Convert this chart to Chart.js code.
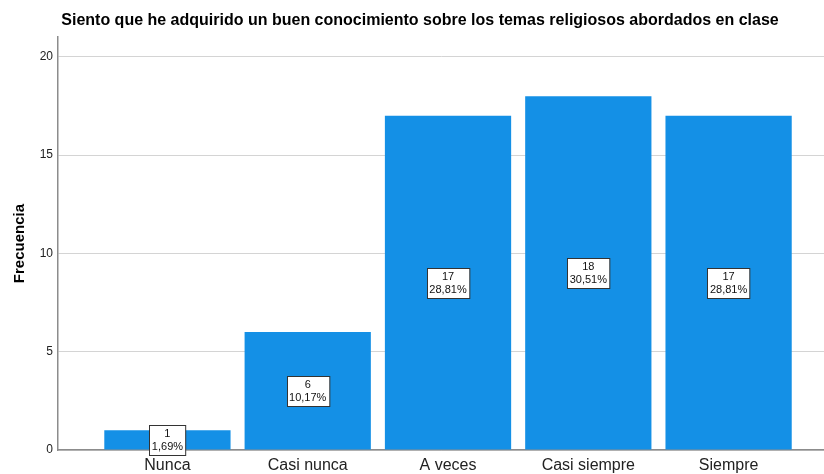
<!DOCTYPE html>
<html>
<head>
<meta charset="utf-8">
<script src="https://cdn.jsdelivr.net/npm/chart.js@4/dist/chart.umd.min.js"></script>
<style>
  html, body { margin: 0; padding: 0; background: #fff; overflow: hidden; }
  #wrap { width: 824px; height: 474px; }
</style>
</head>
<body>
<div id="wrap"><canvas id="myChart" width="824" height="474"></canvas></div>
<script>
const titleText = "Siento que he adquirido un buen conocimiento sobre los temas religiosos abordados en clase";
const categories = [ "Nunca", "Casi nunca", "A veces", "Casi siempre", "Siempre" ];
const counts = [ 1, 6, 17, 18, 17 ];
const percents = [ "1,69%", "10,17%", "28,81%", "30,51%", "28,81%" ];
const yTicks = [ 0, 5, 10, 15, 20 ];

const barColor = "#1490e6";

// boxed labels in the middle of each bar (count + percent)
const boxLabels = {
	id: "boxLabels",
	afterDatasetsDraw(chart) {
		const ctx = chart.ctx;
		const meta = chart.getDatasetMeta(0);
		ctx.save();
		ctx.font = "11px Arial, 'Liberation Sans', sans-serif";
		ctx.textAlign = "center";
		ctx.textBaseline = "middle";
		meta.data.forEach((bar, i) => {
			const lines = [ String(counts[i]), percents[i] ];
			const w = Math.max(...lines.map(t => ctx.measureText(t).width)) + 5;
			const h = 30;
			const cy = (bar.y + bar.base) / 2;
			const x0 = Math.round(bar.x - w / 2) + 0.5;
			const y0 = Math.round(cy - h / 2) + 0.5;
			ctx.fillStyle = "#fff";
			ctx.fillRect(x0, y0, w, h);
			ctx.strokeStyle = "#333";
			ctx.lineWidth = 1;
			ctx.strokeRect(x0, y0, w, h);
			ctx.fillStyle = "#111";
			ctx.fillText(lines[0], bar.x, cy - 6);
			ctx.fillText(lines[1], bar.x, cy + 7);
		});
		ctx.restore();
	}
};

const chart = document.getElementById("myChart").getContext("2d");

let myChart = new Chart(chart, {
	type: "bar",
	data: {
		datasets: [
			{
				data: counts.map((v, i) => ({ x: i, y: v })),
				backgroundColor: barColor,
				borderWidth: 0,
				barPercentage: 0.9,
				categoryPercentage: 1.0
			}
		]
	},
	options: {
		responsive: false,
		animation: false,
		// negative right padding only nudges the title to where the original sits
		layout: { padding: { left: 0, right: -16, top: 0, bottom: 0 } },
		plugins: {
			legend: { display: false },
			tooltip: { enabled: false },
			title: {
				display: true,
				text: titleText,
				color: "#000",
				font: { family: "Arial, 'Liberation Sans', sans-serif", size: 16, weight: "bold" },
				padding: { top: 11, bottom: 7 }
			}
		},
		scales: {
			x: {
				type: "linear",
				offset: false,
				min: -0.78,
				max: 4.68,
				afterBuildTicks: scale => { scale.ticks = categories.map((c, i) => ({ value: i })); },
				afterFit: scale => { scale.height = 24; },
				ticks: {
					callback: v => categories[v] ?? "",
					autoSkip: false,
					maxRotation: 0,
					padding: 6,
					color: "#222",
					font: { family: "Arial, 'Liberation Sans', sans-serif", size: 16 }
				},
				grid: { display: false, drawTicks: false },
				border: { display: true, color: "#8c8c8c", width: 1.5 }
			},
			y: {
				min: 0,
				max: 21,
				afterBuildTicks: scale => { scale.ticks = yTicks.map(v => ({ value: v })); },
				afterFit: scale => { scale.width = 58; },
				ticks: {
					padding: 5,
					color: "#222",
					font: { family: "Arial, 'Liberation Sans', sans-serif", size: 12 }
				},
				grid: { color: "#d4d4d4", lineWidth: 1, drawTicks: false },
				border: { display: true, color: "#8c8c8c", width: 1.5 },
				title: {
					display: true,
					text: "Frecuencia",
					color: "#000",
					font: { family: "Arial, 'Liberation Sans', sans-serif", size: 15, weight: "bold" },
					padding: { top: 11, bottom: 0 }
				}
			}
		}
	},
	plugins: [ boxLabels ]
});
</script>
</body>
</html>
